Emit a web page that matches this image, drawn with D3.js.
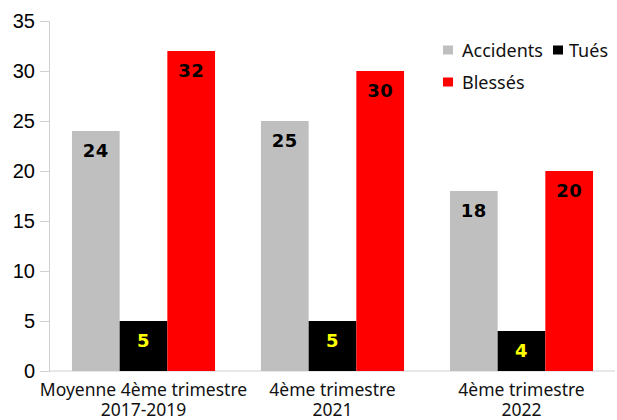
<!DOCTYPE html>
<html>
<head>
<meta charset="utf-8">
<script src="https://cdn.jsdelivr.net/npm/d3@7"></script>
<style>
  body { margin: 0; background: #fff; }
  svg { display: block; }
</style>
</head>
<body>
<div id="chart"></div>
<script>
const categories = [["Moyenne 4ème trimestre", "2017-2019"], ["4ème trimestre", "2021"], ["4ème trimestre", "2022"]];
const seriesNames = ["Accidents", "Tués", "Blessés"];
const accidents = [24, 25, 18];
const tues = [5, 5, 4];
const blesses = [32, 30, 20];
const yTicks = [0, 5, 10, 15, 20, 25, 30, 35];

const colors = ["#bfbfbf", "#000000", "#ff0000"];
const labelColors = ["#000", "#ffff00", "#000"];

const width = 617, height = 420;
const margin = {top: 21, right: 1, bottom: 49, left: 49};

let svg = d3.select("#chart").append("svg")
    .attr("width", width)
    .attr("height", height);

let x0 = d3.scaleBand()
    .domain(d3.range(categories.length))
    .range([margin.left, width - margin.right])
    .paddingInner(0.243)
    .paddingOuter(0.1215);

let x1 = d3.scaleBand()
    .domain(d3.range(seriesNames.length))
    .range([0, x0.bandwidth()]);

let y = d3.scaleLinear()
    .domain([0, 35])
    .range([height - margin.bottom, margin.top]);

// axes
let yAxis = svg.append("g")
    .attr("transform", "translate(" + margin.left + ",0)")
    .call(d3.axisLeft(y).tickValues(yTicks).tickSize(9).tickPadding(5));
yAxis.select(".domain").attr("stroke", "#d0d0d0");
yAxis.selectAll(".tick line").attr("stroke", "#d0d0d0");
yAxis.selectAll(".tick text")
    .attr("fill", "#000")
    .style("font-family", "'Liberation Sans', Arial, sans-serif")
    .style("font-size", "20px");

svg.append("line")
    .attr("x1", margin.left).attr("x2", width - 2)
    .attr("y1", y(0)).attr("y2", y(0))
    .attr("stroke", "#d0d0d0");

let data = categories.map((c, i) => [accidents[i], tues[i], blesses[i]]);

let groups = svg.selectAll("g.grp")
    .data(data)
    .enter().append("g")
    .attr("class", "grp")
    .attr("transform", (d, i) => "translate(" + x0(i) + ",0)");

groups.selectAll("rect")
    .data(d => d)
    .enter().append("rect")
    .attr("x", (d, j) => x1(j))
    .attr("y", d => y(d))
    .attr("width", x1.bandwidth())
    .attr("height", d => y(0) - y(d))
    .attr("fill", (d, j) => colors[j]);

groups.selectAll("text.val")
    .data(d => d)
    .enter().append("text")
    .attr("class", "val")
    .attr("x", (d, j) => x1(j) + x1.bandwidth() / 2)
    .attr("y", d => y(d) + 26)
    .attr("text-anchor", "middle")
    .attr("fill", (d, j) => labelColors[j])
    .style("font-family", "'DejaVu Sans', sans-serif")
    .style("font-weight", "bold")
    .style("font-size", "18px")
    .style("letter-spacing", "0.5px")
    .text(d => d);

// category labels
svg.selectAll("text.cat")
    .data(categories)
    .enter().append("text")
    .attr("class", "cat")
    .attr("text-anchor", "middle")
    .attr("transform", (d, i) => "translate(" + (x0(i) + x0.bandwidth() / 2) + "," + (y(0) + 25) + ")")
    .style("font-family", "'Noto Sans', sans-serif")
    .style("font-size", "17.5px")
    .attr("fill", "#111")
    .selectAll("tspan")
    .data(d => d)
    .enter().append("tspan")
    .attr("x", 0)
    .attr("dy", (d, k) => k === 0 ? 0 : 20)
    .text(d => d);

// legend
const legendPos = [[443, 50, 462], [553, 50, 569], [443, 82, 462]];
let legend = svg.selectAll("g.leg")
    .data(seriesNames)
    .enter().append("g")
    .attr("class", "leg");
legend.append("rect")
    .attr("x", (d, i) => legendPos[i][0])
    .attr("y", (d, i) => legendPos[i][1] - 4.5)
    .attr("width", 10).attr("height", 9)
    .attr("fill", (d, i) => colors[i]);
legend.append("text")
    .attr("x", (d, i) => legendPos[i][2])
    .attr("y", (d, i) => legendPos[i][1] + 6.5)
    .style("font-family", "'Noto Sans', sans-serif")
    .style("font-size", "18px")
    .attr("fill", "#111")
    .text(d => d);
</script>
</body>
</html>
